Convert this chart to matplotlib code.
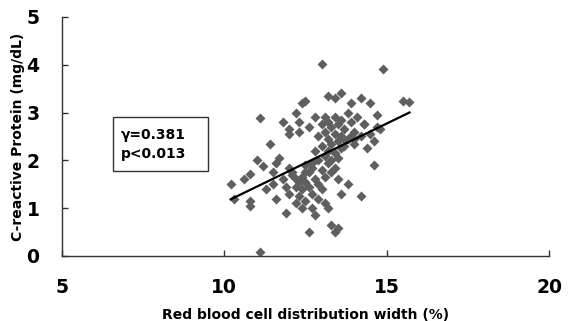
import numpy as np
import matplotlib
matplotlib.use('Agg')
import matplotlib.pyplot as plt
from matplotlib.patches import Rectangle

# RDW (%) vs CRP (mg/dL)
rdw = [10.2, 10.3, 10.6, 10.8, 10.8, 10.8, 11.0, 11.1, 11.1, 11.2, 11.3, 11.4, 11.5, 11.5,
       11.6, 11.6, 11.7, 11.8, 11.8, 11.9, 11.9, 12.0, 12.0, 12.0, 12.0, 12.1,
       12.1, 12.2, 12.2, 12.2, 12.2, 12.3, 12.3, 12.3, 12.3, 12.4, 12.4, 12.4, 12.4,
       12.5, 12.5, 12.5, 12.5, 12.5, 12.6, 12.6, 12.6, 12.6, 12.7, 12.7, 12.7, 12.7,
       12.8, 12.8, 12.8, 12.8, 12.9, 12.9, 12.9, 12.9, 13.0, 13.0, 13.0, 13.0, 13.0,
       13.1, 13.1, 13.1, 13.1, 13.1, 13.2, 13.2, 13.2, 13.2, 13.2, 13.2,
       13.3, 13.3, 13.3, 13.3, 13.3, 13.4, 13.4, 13.4, 13.4, 13.4, 13.4,
       13.5, 13.5, 13.5, 13.5, 13.5, 13.6, 13.6, 13.6, 13.6, 13.6,
       13.7, 13.7, 13.7, 13.8, 13.8, 13.8, 13.9, 13.9, 13.9, 14.0, 14.0, 14.0,
       14.1, 14.2, 14.2, 14.2, 14.3, 14.3, 14.4, 14.5, 14.5, 14.6, 14.6,
       14.7, 14.7, 14.8, 14.9, 15.5, 15.7]
crp = [1.50, 1.20, 1.62, 1.72, 1.05, 1.15, 2.00, 2.88, 0.08, 1.88, 1.40, 2.35, 1.75, 1.50,
       1.95, 1.20, 2.05, 2.80, 1.60, 1.45, 0.90, 1.30, 2.65, 2.55, 1.85, 1.75,
       1.70, 3.00, 1.45, 1.60, 1.10, 2.60, 2.80, 1.55, 1.25, 3.20, 1.65, 1.40, 1.00,
       3.25, 1.75, 1.90, 1.55, 1.15, 2.70, 1.45, 1.75, 0.50, 1.85, 1.95, 1.30, 1.00,
       2.90, 2.20, 1.60, 0.85, 2.50, 2.00, 1.50, 1.20, 4.02, 2.75, 2.30, 1.80, 1.40,
       2.90, 2.60, 2.10, 1.65, 1.10, 3.35, 2.80, 2.45, 2.20, 1.95, 1.00,
       2.70, 2.35, 2.00, 1.75, 0.65, 3.30, 2.90, 2.55, 2.15, 1.85, 0.50,
       2.75, 2.40, 2.05, 1.60, 0.58, 3.40, 2.85, 2.50, 2.25, 1.30,
       2.65, 2.30, 2.45, 3.00, 2.45, 1.50, 3.20, 2.80, 2.50, 2.60, 2.35, 2.45,
       2.90, 3.30, 2.50, 1.25, 2.75, 2.75, 2.25, 3.20, 2.55, 2.40, 1.90,
       2.95, 2.70, 2.65, 3.90, 3.25, 3.22]

stats_text = 'γ=0.381\np<0.013'

fig = plt.figure(figsize=(5.88, 3.21), dpi=100)
ax = fig.add_axes([0.105, 0.2025, 0.829, 0.745])

ax.scatter(rdw, crp, marker='D', s=26, color='#5f5f5f', linewidths=0, zorder=2)

# least squares trend line over the data range
slope, intercept = np.polyfit(rdw, crp, 1)
xs = np.array([min(rdw), max(rdw)])
ax.plot(xs, slope * xs + intercept, color='black', lw=1.6, zorder=3)

ax.set_xlim(5, 20)
ax.set_ylim(0, 5)
ax.set_xticks([5, 10, 15, 20])
ax.set_yticks([0, 1, 2, 3, 4, 5])
ax.tick_params(direction='in', length=4, width=1, colors='#333333', labelcolor='black',
               labelsize=13.5, pad=16)
for lab in ax.get_xticklabels() + ax.get_yticklabels():
    lab.set_fontweight('heavy')

for side in ['top', 'right']:
    ax.spines[side].set_visible(False)
for side in ['left', 'bottom']:
    ax.spines[side].set_color('#333333')
    ax.spines[side].set_linewidth(1)

ax.set_xlabel('Red blood cell distribution width (%)', fontsize=10, fontweight='bold', labelpad=8)
ax.set_ylabel('C-reactive Protein (mg/dL)', fontsize=10, fontweight='bold', labelpad=1)

# stats box
ax.add_patch(Rectangle((0.105, 0.357), 0.195, 0.223, transform=ax.transAxes,
                       fill=False, edgecolor='#333333', lw=1))
ax.text(0.122, 0.468, stats_text, transform=ax.transAxes, fontsize=10, fontweight='bold',
        va='center', ha='left', linespacing=1.45)

plt.savefig('out.png', dpi=100)
